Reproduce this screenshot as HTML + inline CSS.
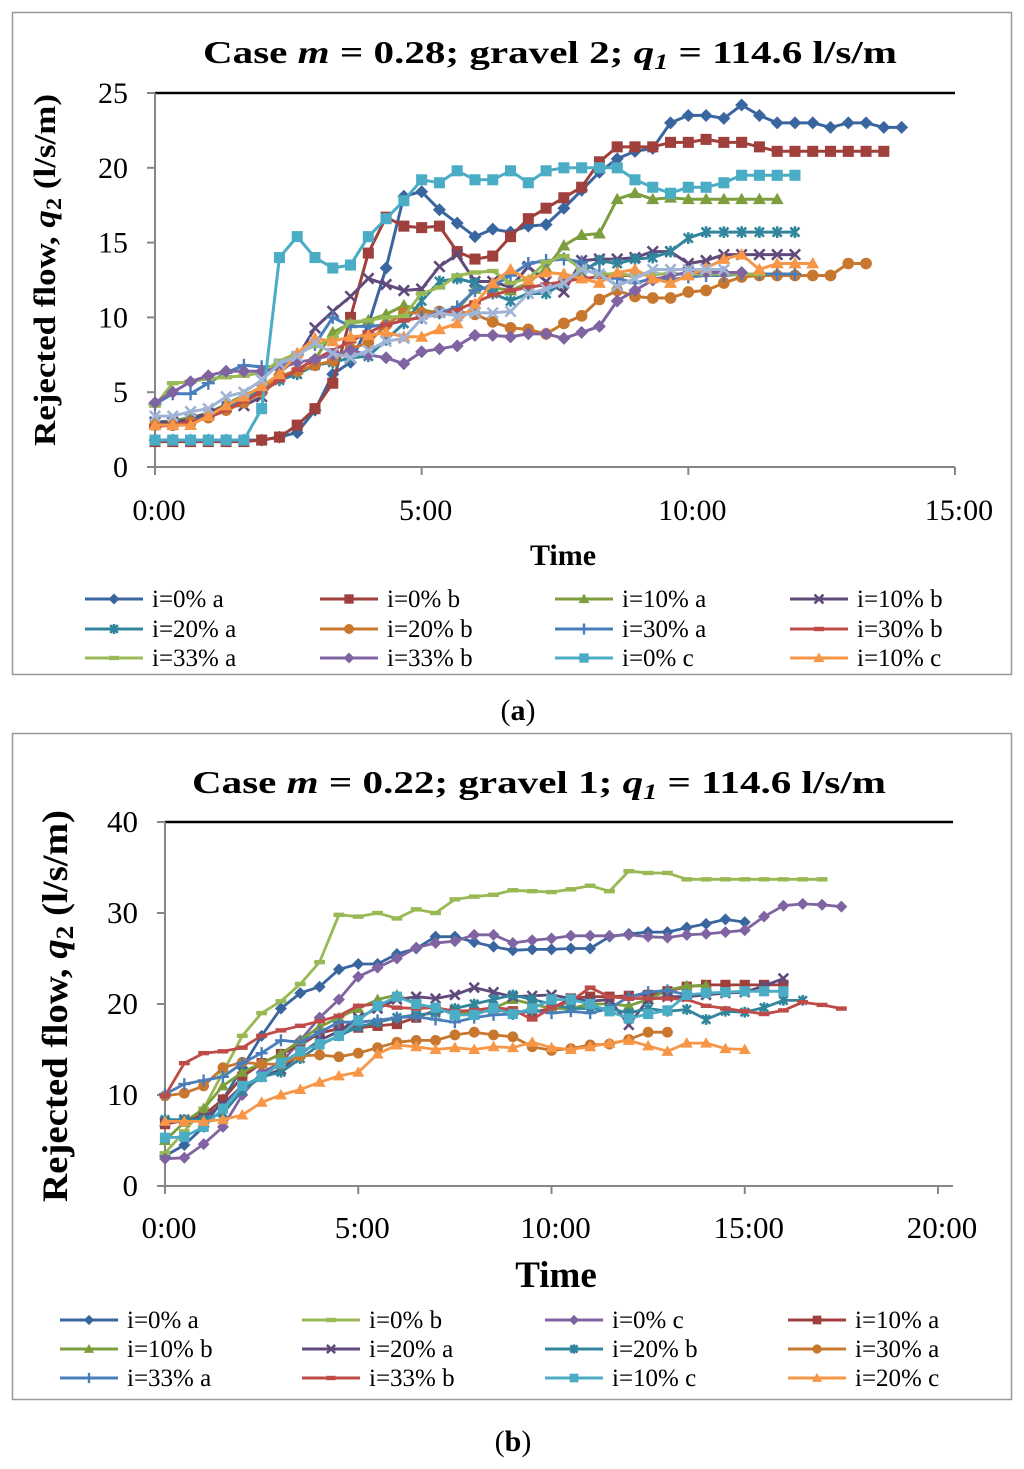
<!DOCTYPE html>
<html><head><meta charset="utf-8">
<style>
html,body{margin:0;padding:0;background:#fff;}
svg{display:block;font-family:"Liberation Serif",serif;}
</style></head>
<body>
<svg id="fig" width="1024" height="1469" viewBox="0 0 1024 1469" xmlns="http://www.w3.org/2000/svg">
<rect x="12.5" y="12.5" width="999" height="662" fill="#fff" stroke="#9a9a9a" stroke-width="1.5"/>
<rect x="12.5" y="733.5" width="999" height="666" fill="#fff" stroke="#9a9a9a" stroke-width="1.5"/>
<text x="550" y="63" text-anchor="middle" font-size="32" font-weight="700" textLength="694" lengthAdjust="spacingAndGlyphs">Case <tspan font-style="italic">m</tspan> = 0.28; gravel 2; <tspan font-style="italic">q<tspan font-size="22" dy="6">1</tspan></tspan><tspan dy="-6"> = 114.6 l/s/m</tspan></text>
<text x="539" y="793" text-anchor="middle" font-size="32" font-weight="700" textLength="694" lengthAdjust="spacingAndGlyphs">Case <tspan font-style="italic">m</tspan> = 0.22; gravel 1; <tspan font-style="italic">q<tspan font-size="22" dy="6">1</tspan></tspan><tspan dy="-6"> = 114.6 l/s/m</tspan></text>
<text x="518" y="720" text-anchor="middle" font-size="30">(<tspan font-weight="bold">a</tspan>)</text>
<text x="513" y="1451" text-anchor="middle" font-size="30">(<tspan font-weight="bold">b</tspan>)</text>
<g id="ga"></g>
<g id="gb"></g>
</svg>
<script>
// ---------- Panel (a) data: time step 1/3 unit from 0 ----------
const aStep = 1/3;
const aXTicks = ["0:00","5:00","10:00","15:00"];
const aYTicks = [0,5,10,15,20,25];
const a0a = [1.8,1.8,1.8,1.8,1.8,1.8,1.8,2.0,2.3,3.8,6.2,7.0,9.5,13.3,18.1,18.4,17.2,16.3,15.4,15.9,15.7,16.1,16.2,17.3,18.5,19.7,20.6,21.1,21.3,23.0,23.5,23.5,23.3,24.2,23.5,23.0,23.0,23.0,22.7,23.0,23.0,22.7,22.7];
const a0b = [1.7,1.7,1.7,1.7,1.7,1.7,1.8,2.0,2.8,3.9,5.6,10,14.3,16.7,16.1,16.0,16.1,14.4,13.9,14.1,15.4,16.6,17.3,18.0,18.7,20.4,21.4,21.4,21.4,21.7,21.7,21.9,21.7,21.7,21.4,21.1,21.1,21.1,21.1,21.1,21.1,21.1];
const a10a = [3.0,3.1,3.3,3.6,4.2,4.8,5.3,6.0,6.5,7.2,9.0,9.6,9.8,10.2,10.8,10.5,10.3,10.5,11.9,12.0,11.8,12.3,13.3,14.8,15.5,15.6,17.9,18.3,17.9,18.0,17.9,17.9,17.9,17.9,17.9,17.9];
const a10b = [3.0,3.0,3.2,3.6,4.1,4.1,4.7,6.3,7.3,9.3,10.4,11.4,12.6,12.2,11.8,11.9,13.4,14.2,12.4,12.4,12.0,13.4,12.4,11.7,13.8,13.9,13.9,14.0,14.4,14.4,13.6,13.8,14.2,14.2,14.2,14.2,14.2];
const a20a = [2.8,2.8,3.0,3.4,3.9,4.5,5.2,5.8,6.2,6.8,7.0,7.3,7.4,8.5,9.6,11.1,12.4,12.6,12.3,11.6,11.1,11.6,11.6,12.3,13.0,13.8,13.6,13.9,14.0,14.4,15.3,15.7,15.7,15.7,15.7,15.7,15.7];
const a20b = [2.8,2.8,3.0,3.3,3.8,4.3,5.0,6.1,6.4,6.8,7.1,7.9,8.3,9.5,10.3,10.3,10.4,10.4,10.2,9.7,9.3,9.2,8.9,9.6,10.1,11.2,11.8,11.4,11.3,11.3,11.7,11.8,12.3,12.7,12.8,12.8,12.8,12.8,12.8,13.6,13.6];
const a30a = [4.2,4.9,4.9,5.6,6.3,6.8,6.7,6.7,7.5,8.2,10.0,9.4,9.4,9.5,9.8,10.0,10.3,10.7,11.8,12.1,12.8,13.6,13.8,13.9,13.7,13.0,12.6,12.3,12.6,12.5,12.7,12.8,12.8,12.9,12.9,12.9,12.9];
const a30b = [2.7,2.8,3.0,3.3,3.8,4.4,5.0,5.8,6.5,7.2,7.8,8.4,9.0,9.5,9.8,10.0,10.2,10.5,11.0,11.5,11.8,12.0,12.2,12.4,12.6,12.7,12.8,12.8,12.9,12.9,12.9,12.9,12.9];
const a33a = [4.1,5.6,5.7,5.9,6.0,6.1,6.3,7.1,7.6,8.1,8.6,9.7,9.8,10.0,10.1,11.6,12.0,12.8,13.0,13.1,12.3,12.6,13.7,14.1,13.2,12.9,12.9,12.8,12.9,12.9,12.9,12.9,12.9,12.9,12.9];
const a33b = [4.3,5.0,5.7,6.1,6.4,6.4,6.4,6.6,7.0,7.2,7.5,7.8,7.5,7.3,6.9,7.7,7.9,8.1,8.8,8.8,8.7,8.9,8.9,8.6,9.0,9.4,11.1,11.8,12.5,12.8,13.0,13.0,13.0,13.0];
const a0c = [1.8,1.8,1.8,1.8,1.8,1.8,3.9,14.0,15.4,14.0,13.3,13.5,15.4,16.6,17.8,19.2,19.0,19.8,19.2,19.2,19.8,19.0,19.8,20.0,20.0,20.0,20.0,19.2,18.7,18.3,18.7,18.7,19.0,19.5,19.5,19.5,19.5];
const a10c = [2.8,2.8,2.8,3.4,4.1,4.7,5.4,6.2,7.6,8.6,8.4,8.7,8.8,9.0,8.7,8.7,9.2,9.6,10.9,12.3,13.2,12.5,13.0,12.9,12.6,12.3,13.0,13.2,12.6,12.3,12.8,13.3,13.9,14.2,13.2,13.6,13.6,13.6];
const aExtra = [3.4,3.4,3.7,3.9,4.7,5.0,5.8,6.9,7.4,8.3,7.6,7.3,7.8,8.4,8.6,9.9,10.3,10.1,10.3,10.3,10.4,11.6,11.9,12.3,13.2,12.9,12.1,12.6,13.2,13.2,13.2,13.2,13.2];
const aLabels = ["i=0% a","i=0% b","i=10% a","i=10% b","i=20% a","i=20% b","i=30% a","i=30% b","i=33% a","i=33% b","i=0% c","i=10% c"];

// ---------- Panel (b) data: time step 0.5 unit from 0 ----------
const bStep = 0.5;
const bXTicks = ["0:00","5:00","10:00","15:00","20:00"];
const bYTicks = [0,10,20,30,40];
const b0a = [3.3,4.5,6.5,9.5,13.0,16.5,19.5,21.2,21.9,23.8,24.4,24.4,25.5,26.1,27.4,27.4,26.8,26.3,25.9,26.0,26.0,26.1,26.1,27.4,27.7,27.9,27.9,28.4,28.8,29.3,29.0];
const b0b = [3.6,6.0,8.5,12.5,16.5,19.0,20.3,22.2,24.6,29.8,29.6,30.0,29.4,30.4,30.0,31.5,31.8,32.0,32.5,32.4,32.3,32.6,33.0,32.4,34.6,34.4,34.4,33.7,33.7,33.7,33.7,33.7,33.7,33.7,33.7];
const b0c = [3.0,3.1,4.6,6.5,10.0,12.5,13.5,16.0,18.5,20.5,23.0,24.0,25.0,26.2,26.7,26.9,27.6,27.6,26.7,27.0,27.2,27.5,27.5,27.5,27.6,27.4,27.3,27.6,27.7,27.9,28.1,29.6,30.8,31.0,30.9,30.7];
const b10a = [6.8,7.2,7.8,9.5,12.0,13.5,14.5,15.5,16.8,17.3,17.4,17.6,17.8,18.5,19.3,19.3,19.1,19.3,19.2,19.1,19.5,20.6,20.8,20.8,20.9,21.0,21.4,21.9,22.1,22.1,22.1,22.1,22.1];
const b10b = [5.0,7.0,8.5,11.0,12.5,13.5,14.5,16.0,17.5,18.5,19.5,20.5,21.0,20.0,19.5,19.0,19.0,19.5,20.5,20.0,19.5,19.5,20.0,20.0,19.8,20.5,21.5,22.0,22.0];
const b20a = [7.0,7.3,7.5,9.0,11.0,12.0,12.8,14.5,16.0,17.0,18.5,19.5,20.5,20.8,20.6,21.0,21.8,21.3,20.8,20.9,21.0,20.6,20.3,20.5,17.7,20.5,20.8,20.8,21.0,21.2,21.3,22.0,22.8];
const b20b = [7.3,7.3,7.3,8.0,10.5,12.0,12.5,14.0,15.5,16.5,17.5,18.0,18.5,18.8,19.0,19.5,20.0,20.5,21.0,20.5,20.0,19.5,19.5,19.5,19.0,19.5,19.2,19.4,18.3,19.2,19.1,19.6,20.4,20.4];
const b30a = [9.9,10.2,11.0,13.0,13.6,13.4,13.4,14.3,14.4,14.2,14.6,15.2,15.8,16.0,16.0,16.6,16.9,16.6,16.4,15.3,14.9,15.1,15.5,15.6,16.1,16.9,16.9];
const b33a = [10.1,11.2,11.6,12.0,13.5,14.6,16.0,15.8,16.9,18.0,18.0,18.2,18.5,18.6,18.3,18.0,18.5,18.8,18.9,19.3,19.0,19.2,19.0,19.5,20.8,21.3,21.5,21.0];
const b33b = [9.9,13.5,14.6,14.8,15.2,16.5,17.1,17.6,18.1,18.7,19.8,20.0,19.6,19.5,19.6,19.2,19.3,19.6,19.4,18.3,19.6,20.3,21.8,20.8,20.6,20.6,20.6,20.5,19.8,19.5,19.2,18.9,19.3,20.2,19.9,19.5];
const b10c = [5.3,5.4,6.5,8.5,11.0,12.0,13.5,14.8,15.6,16.5,18.2,19.8,20.8,20.0,19.6,18.8,18.8,19.5,18.9,19.5,20.5,20.5,20.0,19.2,18.4,18.9,19.3,21.0,21.2,21.3,21.4,21.4,21.4];
const b20c = [7.1,7.1,7.1,7.3,7.8,9.2,10.0,10.6,11.4,12.1,12.5,14.5,15.5,15.3,15.0,15.2,15.0,15.3,15.2,15.8,15.2,15.0,15.3,15.7,16.0,15.4,14.8,15.7,15.7,15.1,15.0];
const bLabels = ["i=0% a","i=0% b","i=0% c","i=10% a","i=10% b","i=20% a","i=20% b","i=30% a","i=33% a","i=33% b","i=10% c","i=20% c"];

const NS = "http://www.w3.org/2000/svg";
function mk(tag, attrs, parent){
  const e = document.createElementNS(NS, tag);
  for (const k in attrs) e.setAttribute(k, attrs[k]);
  parent.appendChild(e);
  return e;
}
function marker(g, type, x, y, s, c){
  let m;
  if (type==="diamond") m = mk("polygon",{points:`${x},${y-s} ${x+s},${y} ${x},${y+s} ${x-s},${y}`,fill:c},g);
  else if (type==="square") m = mk("rect",{x:x-s*0.85,y:y-s*0.85,width:s*1.7,height:s*1.7,fill:c},g);
  else if (type==="triangle") m = mk("polygon",{points:`${x},${y-s} ${x+s},${y+s*0.75} ${x-s},${y+s*0.75}`,fill:c},g);
  else if (type==="circle") m = mk("circle",{cx:x,cy:y,r:s*0.9,fill:c},g);
  else if (type==="x") m = mk("path",{d:`M${x-s*0.8},${y-s*0.8}L${x+s*0.8},${y+s*0.8}M${x-s*0.8},${y+s*0.8}L${x+s*0.8},${y-s*0.8}`,stroke:c,"stroke-width":2.6,fill:"none"},g);
  else if (type==="star") m = mk("path",{d:`M${x-s*0.7},${y-s*0.7}L${x+s*0.7},${y+s*0.7}M${x-s*0.7},${y+s*0.7}L${x+s*0.7},${y-s*0.7}M${x},${y-s*0.9}L${x},${y+s*0.9}`,stroke:c,"stroke-width":2.6,fill:"none"},g);
  else if (type==="plus") m = mk("path",{d:`M${x-s},${y}L${x+s},${y}M${x},${y-s}L${x},${y+s}`,stroke:c,"stroke-width":2.4,fill:"none"},g);
  else if (type==="dash") m = mk("rect",{x:x-s*0.9,y:y-2.2,width:s*1.8,height:4.4,fill:c},g);
  return m;
}

function drawPanel(cfg){
  const root = document.getElementById(cfg.id);
  const X = t => cfg.x0 + t*cfg.ux;
  const Y = v => cfg.y0 - (v/cfg.ymax)*(cfg.y0-cfg.yTop);
  const ax = mk("g",{},root);
  
  
  mk("line",{x1:cfg.x0,y1:cfg.yTop,x2:cfg.xEnd,y2:cfg.yTop,stroke:"#000","stroke-width":2.5},ax);
  mk("line",{x1:cfg.x0,y1:cfg.yTop,x2:cfg.x0,y2:cfg.y0,stroke:"#868686","stroke-width":2},ax);
  mk("line",{x1:cfg.x0,y1:cfg.y0,x2:cfg.xEnd,y2:cfg.y0,stroke:"#868686","stroke-width":2},ax);
  cfg.yTicks.forEach(v=>{
    mk("line",{x1:cfg.x0-8,y1:Y(v),x2:cfg.x0,y2:Y(v),stroke:"#868686","stroke-width":2},ax);
    const t = mk("text",{x:cfg.yLabX,y:Y(v)+10,"text-anchor":"end","font-size":cfg.tickFs},ax);
    t.textContent = v;
    
    
  });
  cfg.xTicks.forEach((lab,i)=>{
    const xv = X(i*5);
    mk("line",{x1:xv,y1:cfg.y0,x2:xv,y2:cfg.y0+8,stroke:"#868686","stroke-width":2},ax);
    const t = mk("text",{x:xv+4,y:cfg.xLabY,"text-anchor":"middle","font-size":cfg.tickFs},ax);
    t.textContent = lab;
    
    
  });
  const xt = mk("text",{x:cfg.timeX,y:cfg.timeY,"text-anchor":"middle","font-size":cfg.timeFs,"font-weight":"bold"},root);
  xt.textContent = "Time";
  
  
  const yt = mk("text",{x:0,y:0,"text-anchor":"middle","font-size":cfg.yTitleFs,"font-weight":"bold",transform:`translate(${cfg.yTitleX},${cfg.yTitleY}) rotate(-90)`,textLength:cfg.yTitleLen,lengthAdjust:"spacingAndGlyphs"},root);
  yt.innerHTML = 'Rejected flow, <tspan font-style="italic">q</tspan><tspan font-size="'+(cfg.yTitleFs*0.7)+'" dy="6">2</tspan><tspan dy="-6"> (l/s/m)</tspan>';
  
  
  cfg.series.forEach(s=>{
    const g = mk("g",{},root);
    
    
    const pts = s.vals.map((v,i)=>[X(i*cfg.step),Y(v)]);
    mk("polyline",{points:pts.map(p=>p[0].toFixed(1)+","+p[1].toFixed(1)).join(" "),fill:"none",stroke:s.c,"stroke-width":cfg.lw,"stroke-linejoin":"round"},g);
    pts.forEach(p=>marker(g,s.m,p[0],p[1],cfg.ms,s.c));
  });
  cfg.series.forEach((s,i)=>{
    if (!s.label) return;
    const col = i%4, row = Math.floor(i/4);
    const lx = cfg.legX[col], ly = cfg.legY[row];
    const g = mk("g",{},root);
    
    
    mk("line",{x1:lx,y1:ly,x2:lx+58,y2:ly,stroke:s.c,"stroke-width":3},g);
    marker(g,s.m,lx+29,ly,cfg.ms*0.85,s.c);
    const t = mk("text",{x:lx+67,y:ly+8,"font-size":cfg.legFs},g);
    t.textContent = s.label;
  });
}

const C = {dblue:"#3A66A0",red:"#A0403D",green:"#7D9E3E",purple:"#604A7B",teal:"#31859C",orange:"#C8772F",blue:"#4A7EBB",red2:"#BE4B48",lgreen:"#98B954",lpurple:"#8064A2",aqua:"#4BACC6",lorange:"#F79646",gray:"#A0B4D6"};

drawPanel({id:"ga",p:"panel-a",x0:155,xEnd:955,ux:53.33,y0:467,yTop:93,ymax:25,step:aStep,
  xTicks:aXTicks,yTicks:aYTicks,yLabX:128,xLabY:520,tickFs:30,timeX:563,timeY:565,timeFs:30,
  yTitleX:55,yTitleY:270,yTitleFs:31,yTitleLen:352,lw:3,ms:6.5,
  legX:[85,320,555,790],legY:[599,629,658],legFs:25,
  series:[
    {key:"i0a",vals:a0a,c:C.dblue,m:"diamond",label:aLabels[0]},
    {key:"i0b",vals:a0b,c:C.red,m:"square",label:aLabels[1]},
    {key:"i10a",vals:a10a,c:C.green,m:"triangle",label:aLabels[2]},
    {key:"i10b",vals:a10b,c:C.purple,m:"x",label:aLabels[3]},
    {key:"i20a",vals:a20a,c:C.teal,m:"star",label:aLabels[4]},
    {key:"i20b",vals:a20b,c:C.orange,m:"circle",label:aLabels[5]},
    {key:"i30a",vals:a30a,c:C.blue,m:"plus",label:aLabels[6]},
    {key:"i30b",vals:a30b,c:C.red2,m:"dash",label:aLabels[7]},
    {key:"i33a",vals:a33a,c:C.lgreen,m:"dash",label:aLabels[8]},
    {key:"i33b",vals:a33b,c:C.lpurple,m:"diamond",label:aLabels[9]},
    {key:"i0c",vals:a0c,c:C.aqua,m:"square",label:aLabels[10]},
    {key:"i10c",vals:a10c,c:C.lorange,m:"triangle",label:aLabels[11]},
    {key:"extra",vals:aExtra,c:C.gray,m:"x",label:null}
  ]});

drawPanel({id:"gb",p:"panel-b",x0:165,xEnd:953,ux:38.65,y0:1186,yTop:822,ymax:40,step:bStep,
  xTicks:bXTicks,yTicks:bYTicks,yLabX:138,xLabY:1238,tickFs:31,timeX:556,timeY:1287,timeFs:37,
  yTitleX:67,yTitleY:1006,yTitleFs:36,yTitleLen:392,lw:2.8,ms:6,
  legX:[60,302,545,788],legY:[1320,1349,1378],legFs:25,
  series:[
    {key:"i0a",vals:b0a,c:C.dblue,m:"diamond",label:bLabels[0]},
    {key:"i0b",vals:b0b,c:C.lgreen,m:"dash",label:bLabels[1]},
    {key:"i0c",vals:b0c,c:C.lpurple,m:"diamond",label:bLabels[2]},
    {key:"i10a",vals:b10a,c:C.red,m:"square",label:bLabels[3]},
    {key:"i10b",vals:b10b,c:C.green,m:"triangle",label:bLabels[4]},
    {key:"i20a",vals:b20a,c:C.purple,m:"x",label:bLabels[5]},
    {key:"i20b",vals:b20b,c:C.teal,m:"star",label:bLabels[6]},
    {key:"i30a",vals:b30a,c:C.orange,m:"circle",label:bLabels[7]},
    {key:"i33a",vals:b33a,c:C.blue,m:"plus",label:bLabels[8]},
    {key:"i33b",vals:b33b,c:C.red2,m:"dash",label:bLabels[9]},
    {key:"i10c",vals:b10c,c:C.aqua,m:"square",label:bLabels[10]},
    {key:"i20c",vals:b20c,c:C.lorange,m:"triangle",label:bLabels[11]}
  ]});
</script>
</body></html>
